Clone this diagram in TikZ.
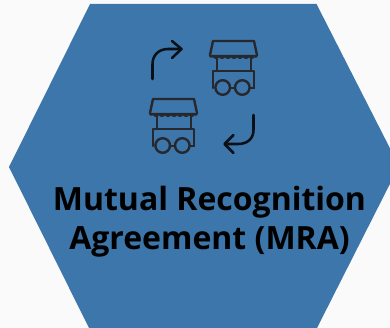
\documentclass[tikz,border=0pt]{standalone}
\usepackage{fontspec}
\setmainfont{Open Sans}
\usepackage{xcolor}
\definecolor{hexblue}{RGB}{60,118,170}
\definecolor{pagegrey}{RGB}{250,250,250}
\definecolor{cartgrey}{RGB}{38,40,46}
\definecolor{arrowink}{RGB}{10,16,24}
\tikzset{
  cartline/.style={draw=cartgrey,line width=1.8pt,line join=round,line cap=round},
  arrowline/.style={draw=arrowink,line width=1.9pt,line join=round,line cap=round},
  pics/foodcart/.style={code={
    %Awning
    \draw [cartline] (3,0) -- (44,0) -- (47,14) .. controls (47,16) and (45,16) .. (44,15) -- (3,15) .. controls (1,16) and (0,16) .. (0,14) -- cycle ;
    %Scallops
    \draw [cartline,line width=1.2pt] (3,15) .. controls (5,18) and (7,18) .. (9,15) .. controls (11,18) and (13,18) .. (15,15) .. controls (17,18) and (19,18) .. (21,15) .. controls (23,18) and (25,18) .. (27,15) .. controls (29,18) and (31,18) .. (33,15) .. controls (35,18) and (37,18) .. (39,15) .. controls (41,18) and (43,18) .. (44,15) ;
    %Posts
    \draw [cartline] (7,16) -- (7,30) ;
    \draw [cartline] (41,16) -- (41,30) ;
    %Box
    \draw [cartline] (3,47) -- (3,30) -- (44,30) -- (44,47) ;
    \draw [cartline] (20,47) -- (25,47) ;
    \draw [cartline] (40,47) -- (44,47) ;
    %Wheels
    \draw [cartline] (12.7,46.5) circle (7.3) ;
    \draw [cartline] (32.3,46.5) circle (7.3) ;
  }}
}

\begin{document}
\begin{tikzpicture}[x=0.75pt,y=0.75pt,yscale=-1,xscale=1]
\useasboundingbox (0,0) rectangle (390,328);
\fill [pagegrey] (0,0) rectangle (390,328);
%Shape: Hexagon
\fill [hexblue] (90,4) -- (316.5,4) -- (399,166) -- (317,328) -- (89,328) -- (9,167) -- cycle ;

%Upper cart
\pic [transform shape] at (210,41) {foodcart};
%Lower cart
\pic [transform shape] at (150,99) {foodcart};

%Curve Lines: upper arrow
\draw [arrowline] (152.5,79) -- (152.5,64) .. controls (152.5,55) and (159,49) .. (168,49) -- (181,49) ;
\draw [arrowline] (172,41) -- (181.5,49) -- (172,58) ;
%Curve Lines: lower arrow
\draw [arrowline] (253.5,115) -- (253.5,130) .. controls (253.5,139) and (247,144) .. (238,144) -- (225,144) ;
\draw [arrowline] (233.5,135) -- (224.5,144) -- (233.5,153) ;

% Text Node
\node (mralabel) at (209.5,221.5) [inner sep=0.75pt,align=center,font=\fontsize{24}{29.2}\selectfont\bfseries,text=black] {Mutual Recognition\\Agreement (MRA)};
\end{tikzpicture}
\end{document}
